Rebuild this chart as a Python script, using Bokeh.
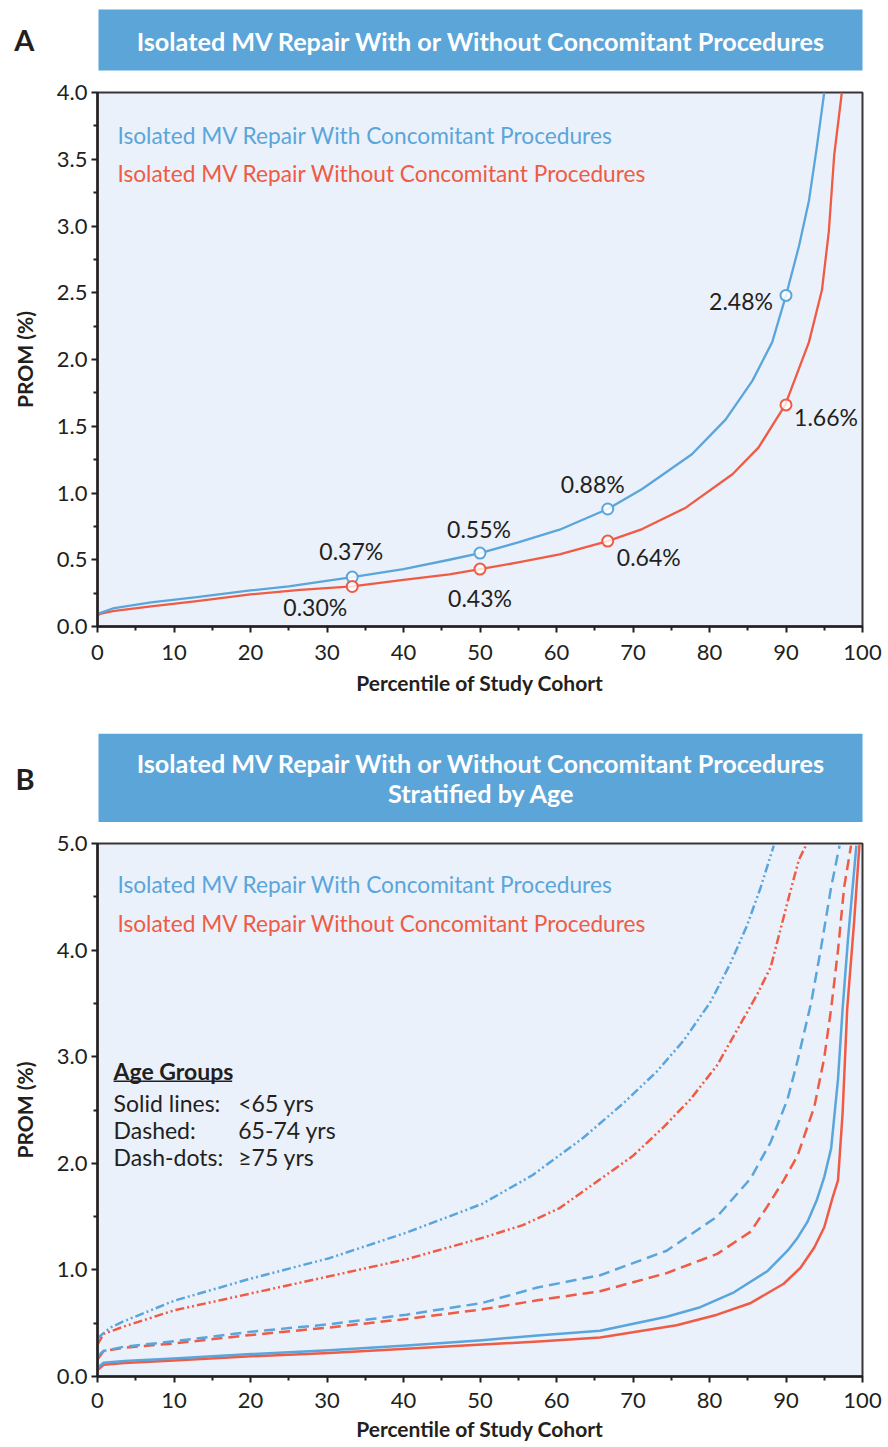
from bokeh.plotting import figure
from bokeh.layouts import column
from bokeh.models import Range1d, FixedTicker, NumeralTickFormatter
from bokeh.core.properties import value
from bokeh.embed import file_html
from bokeh.resources import INLINE

# ---------------- data ----------------
title_a = "Isolated MV Repair With or Without Concomitant Procedures"
title_b = ["Isolated MV Repair With or Without Concomitant Procedures", "Stratified by Age"]
label_with = "Isolated MV Repair With Concomitant Procedures"
label_without = "Isolated MV Repair Without Concomitant Procedures"
x_label = "Percentile of Study Cohort"
y_label = "PROM (%)"

# Panel A
a_with_x = [0, 0.3, 2, 7, 13, 20, 25, 33.3, 40, 46, 50, 55, 60.4, 66.7, 71.2, 77.7, 82.1, 85.6, 88.2, 90, 91.7, 93, 94, 95]
a_with_y = [0.08, 0.10, 0.135, 0.18, 0.22, 0.27, 0.30, 0.37, 0.43, 0.50, 0.55, 0.63, 0.725, 0.88, 1.03, 1.29, 1.55, 1.84, 2.13, 2.48, 2.85, 3.19, 3.58, 4.0]
a_without_x = [0, 0.3, 2, 7, 13, 20, 26.5, 33.3, 40, 46, 50, 55, 60.4, 66.7, 71.2, 76.9, 83, 86.4, 89.9, 93, 94.7, 95.6, 96.3, 97.3]
a_without_y = [0.08, 0.095, 0.115, 0.15, 0.19, 0.24, 0.275, 0.30, 0.35, 0.39, 0.43, 0.48, 0.54, 0.64, 0.73, 0.89, 1.14, 1.34, 1.66, 2.13, 2.52, 2.96, 3.53, 4.0]
a_mark_x = [33.3, 50, 66.7, 90]
a_mark_with = [0.37, 0.55, 0.88, 2.48]
a_mark_without = [0.30, 0.43, 0.64, 1.66]

# Panel B (solid <65, dashed 65-74, dash-dot >=75)
b_solid_with_x = [0, 0.8, 3.5, 10, 20.1, 30.3, 40.4, 50.3, 57.5, 65.7, 74.4, 78.8, 83.2, 87.6, 90.2, 91.5, 92.8, 94.0, 95.0, 95.9, 96.8, 97.4, 98.1, 99.2]
b_solid_with_y = [0.08, 0.13, 0.146, 0.17, 0.21, 0.246, 0.29, 0.34, 0.385, 0.43, 0.56, 0.65, 0.79, 0.99, 1.18, 1.30, 1.45, 1.65, 1.87, 2.14, 2.79, 3.45, 4.10, 4.98]
b_solid_without_x = [0, 0.8, 3.5, 10, 20.1, 30.3, 40.4, 50.3, 58.2, 65.7, 75.7, 81.0, 85.4, 89.7, 91.9, 93.7, 95.0, 96.1, 96.8, 97.4, 98.0, 98.9, 99.6]
b_solid_without_y = [0.06, 0.11, 0.127, 0.15, 0.19, 0.22, 0.26, 0.30, 0.33, 0.365, 0.48, 0.58, 0.69, 0.87, 1.02, 1.21, 1.40, 1.68, 1.84, 2.47, 3.45, 4.26, 4.99]
b_dash_with_x = [0, 0.8, 3.5, 10, 20.1, 30.3, 40.4, 50.3, 57.5, 65.7, 74.4, 81.0, 85.4, 88.0, 90.2, 91.5, 93.3, 94.6, 95.9, 97.0]
b_dash_with_y = [0.19, 0.24, 0.28, 0.33, 0.42, 0.49, 0.58, 0.69, 0.835, 0.95, 1.18, 1.50, 1.86, 2.20, 2.60, 2.96, 3.51, 4.03, 4.59, 4.98]
b_dash_without_x = [0, 0.8, 3.5, 10, 20.1, 30.3, 40.4, 50.3, 57.5, 65.7, 74.4, 81.0, 85.4, 87.6, 89.7, 91.5, 93.7, 95.0, 95.9, 96.8, 97.6, 98.5]
b_dash_without_y = [0.16, 0.24, 0.27, 0.31, 0.39, 0.46, 0.54, 0.63, 0.715, 0.80, 0.97, 1.15, 1.36, 1.60, 1.84, 2.07, 2.53, 2.99, 3.45, 4.00, 4.59, 4.98]
b_dd_with_x = [0, 1.7, 3.5, 10, 20.1, 30.3, 40.4, 50.3, 56.9, 63.5, 68.7, 73.1, 76.6, 80.1, 82.7, 84.9, 86.7, 88.4]
b_dd_with_y = [0.36, 0.46, 0.52, 0.71, 0.92, 1.11, 1.35, 1.62, 1.89, 2.24, 2.56, 2.86, 3.15, 3.51, 3.87, 4.23, 4.59, 4.98]
b_dd_without_x = [0, 0.8, 3.5, 10, 20.1, 30.3, 40.4, 50.3, 55.6, 60.4, 65.7, 70.0, 74.0, 77.5, 81.0, 83.6, 86.2, 88.0, 89.3, 90.6, 91.7, 92.6]
b_dd_without_y = [0.30, 0.40, 0.47, 0.62, 0.78, 0.94, 1.10, 1.30, 1.42, 1.58, 1.85, 2.07, 2.34, 2.60, 2.92, 3.25, 3.58, 3.84, 4.20, 4.56, 4.85, 4.98]

age_title = "Age Groups"
age_keys = ["Solid lines:", "Dashed:", "Dash-dots:"]
age_vals = ["<65 yrs", "65-74 yrs", "\u226575 yrs"]

x_ticks = [0, 10, 20, 30, 40, 50, 60, 70, 80, 90, 100]
x_minor = [5, 15, 25, 35, 45, 55, 65, 75, 85, 95]
a_y_ticks = [0.0, 0.5, 1.0, 1.5, 2.0, 2.5, 3.0, 3.5, 4.0]
a_y_minor = [0.25, 0.75, 1.25, 1.75, 2.25, 2.75, 3.25, 3.75]
b_y_ticks = [0.0, 1.0, 2.0, 3.0, 4.0, 5.0]
b_y_minor = [0.5, 1.5, 2.5, 3.5, 4.5]

# ---------------- style ----------------
BLUE = "#5AA5DB"
RED = "#EF5B44"
BAR = "#5BA5D9"
BG = "#EAF1FA"
DARK = "#231F20"
FONT = "Lato"
W = 888
LEFT = 97          # frame left edge (px)
FW = 765           # frame width (px) shared by both panels
RIGHT = W - LEFT - FW


def header(h, frame_top, bar_top, bar_bot, lines, line_ys, letter):
    # header frame is aligned with the plot frames below, so x maps to page pixels;
    # the panel letter is the (horizontal) label of an empty left axis.
    f = figure(width=W, height=h, x_range=Range1d(LEFT, LEFT + FW), y_range=Range1d(h, frame_top),
               toolbar_location=None, output_backend="svg", min_border=0,
               min_border_top=frame_top, x_axis_location=None, y_axis_location="left")
    f.grid.visible = False
    f.outline_line_color = None
    f.background_fill_color = "white"
    f.border_fill_color = "white"
    ax = f.yaxis[0]
    ax.ticker = FixedTicker(ticks=[])
    ax.axis_line_color = None
    ax.major_tick_line_color = None
    ax.minor_tick_line_color = None
    ax.major_tick_out = 0
    ax.minor_tick_out = 0
    ax.axis_label = letter
    ax.axis_label_orientation = "horizontal"
    ax.axis_label_text_font = FONT
    ax.axis_label_text_font_style = "bold"
    ax.axis_label_text_font_size = "29px"
    ax.axis_label_text_color = DARK
    ax.axis_label_standoff = 63
    f.quad(left=[LEFT + 1], right=[LEFT + FW + 3], top=[bar_top], bottom=[bar_bot],
           fill_color=BAR, line_color=None)
    f.text(x=[481] * len(lines), y=line_ys, text=lines, text_font=value(FONT),
           text_font_style="bold", text_font_size="25.2px", text_color="white",
           text_align="center", text_baseline="middle")
    return f


def panel(h, top, bottom, ymax, yt, ym, tick_standoff, label_standoff):
    p = figure(width=W, height=h, x_range=Range1d(0, 100), y_range=Range1d(0, ymax),
               min_border_left=LEFT, min_border_right=RIGHT,
               min_border_top=top, min_border_bottom=bottom,
               toolbar_location=None, output_backend="svg",
               background_fill_color=BG, border_fill_color="white")
    p.grid.visible = False
    p.outline_line_color = DARK
    p.outline_line_width = 2
    p.outline_line_alpha = 0.9
    p.xaxis.ticker = FixedTicker(ticks=x_ticks, minor_ticks=x_minor)
    p.yaxis.ticker = FixedTicker(ticks=yt, minor_ticks=ym)
    p.yaxis.formatter = NumeralTickFormatter(format="0.0")
    p.xaxis.axis_label = x_label
    p.yaxis.axis_label = y_label
    for ax in (p.xaxis, p.yaxis):
        ax.axis_line_color = DARK
        ax.axis_line_width = 2.5
        ax.major_tick_line_color = DARK
        ax.minor_tick_line_color = DARK
        ax.major_tick_line_width = 2
        ax.minor_tick_line_width = 2
        ax.major_tick_in = 0
        ax.major_tick_out = 6
        ax.minor_tick_in = 0
        ax.minor_tick_out = 4
        ax.major_label_text_font = FONT
        ax.major_label_text_font_size = "22px"
        ax.major_label_text_color = DARK
        ax.axis_label_text_font = FONT
        ax.axis_label_text_font_style = "bold"
        ax.axis_label_text_font_size = "21px"
        ax.axis_label_text_color = DARK
    p.xaxis.major_label_standoff = tick_standoff
    p.xaxis.axis_label_standoff = label_standoff
    p.yaxis.major_label_standoff = 4
    p.yaxis.axis_label_standoff = 17
    return p


def legend_texts(p, x, y1, y2):
    p.text(x=[x], y=[y1], text=[label_with], text_font=value(FONT), text_font_size="22.7px",
           text_color=BLUE, text_baseline="middle")
    p.text(x=[x], y=[y2], text=[label_without], text_font=value(FONT), text_font_size="22.7px",
           text_color=RED, text_baseline="middle")


# ---------------- panel A ----------------
head_a = header(76, 2, 9, 70, [title_a], [40], "A")
pa = panel(628, 16, 78, 4.0, a_y_ticks, a_y_minor, 12, 7)
pa.line(a_without_x, a_without_y, line_color=RED, line_width=2.3, line_join="round")
pa.line(a_with_x, a_with_y, line_color=BLUE, line_width=2.3, line_join="round")
pa.scatter(a_mark_x, a_mark_with, marker="circle", size=11, line_color=BLUE, line_width=2,
           fill_color="white", fill_alpha=0.85)
pa.scatter(a_mark_x, a_mark_without, marker="circle", size=11, line_color=RED, line_width=2,
           fill_color="white", fill_alpha=0.8)
pa.text(x=a_mark_x, y=a_mark_with, text=[f"{v:.2f}%" for v in a_mark_with],
        x_offset=[-1, -1, -15, -45], y_offset=[-26, -24, -25, 6],
        text_font=value(FONT), text_font_size="23px", text_color=DARK,
        text_align="center", text_baseline="middle")
pa.text(x=a_mark_x, y=a_mark_without, text=[f"{v:.2f}%" for v in a_mark_without],
        x_offset=[-37, 0, 41, 40], y_offset=[21, 29, 16, 12],
        text_font=value(FONT), text_font_size="23px", text_color=DARK,
        text_align="center", text_baseline="middle")
legend_texts(pa, 2.6, 3.68, 3.39)

# ---------------- panel B ----------------
head_b = header(118, 29, 29, 118, title_b, [58, 88], "B")
pb = panel(625, 21, 71, 5.0, b_y_ticks, b_y_minor, 10, 5)
DASH = "11 6"
DD = "9 3 2 3 2 3"
pb.line(b_dd_without_x, b_dd_without_y, line_color=RED, line_width=2.5, line_dash=DD)
pb.line(b_dd_with_x, b_dd_with_y, line_color=BLUE, line_width=2.5, line_dash=DD)
pb.line(b_dash_without_x, b_dash_without_y, line_color=RED, line_width=2.5, line_dash=DASH)
pb.line(b_dash_with_x, b_dash_with_y, line_color=BLUE, line_width=2.5, line_dash=DASH)
pb.line(b_solid_without_x, b_solid_without_y, line_color=RED, line_width=2.5, line_join="round")
pb.line(b_solid_with_x, b_solid_with_y, line_color=BLUE, line_width=2.5, line_join="round")
legend_texts(pb, 2.6, 4.62, 4.25)

pb.text(x=[2.1], y=[2.87], text=[age_title], text_font=value(FONT), text_font_style="bold",
        text_font_size="23px", text_color=DARK, text_baseline="middle")
pb.segment(x0=[2.1], y0=[2.77], x1=[17.6], y1=[2.77], line_color=DARK, line_width=1.5)
pb.text(x=[2.1] * 3, y=[2.57, 2.317, 2.063], text=age_keys, text_font=value(FONT),
        text_font_size="23px", text_color=DARK, text_baseline="middle")
pb.text(x=[18.4] * 3, y=[2.57, 2.317, 2.063], text=age_vals, text_font=value(FONT),
        text_font_size="23px", text_color=DARK, text_baseline="middle")

layout = column(head_a, pa, head_b, pb, spacing=0)
open("out.html", "w").write(file_html(layout, INLINE))
